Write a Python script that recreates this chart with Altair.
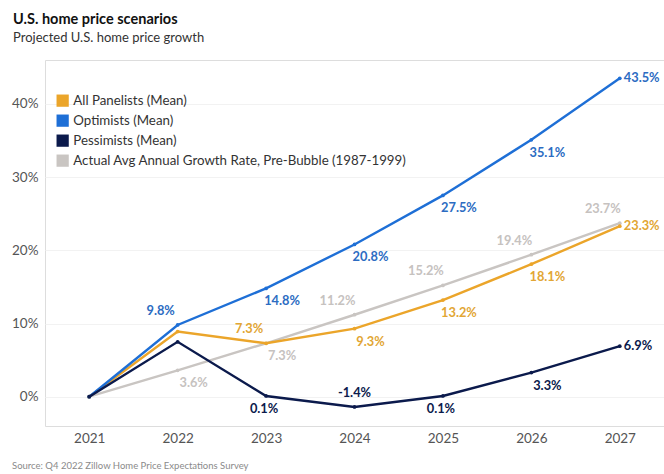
import altair as alt
import pandas as pd

years = ["2021", "2022", "2023", "2024", "2025", "2026", "2027"]
series = [
    "All Panelists (Mean)",
    "Optimists (Mean)",
    "Pessimists (Mean)",
    "Actual Avg Annual Growth Rate, Pre-Bubble (1987-1999)",
]
all_panelists = [0.0, 8.9, 7.3, 9.3, 13.2, 18.1, 23.3]
optimists = [0.0, 9.8, 14.8, 20.8, 27.5, 35.1, 43.5]
pessimists = [0.0, 7.5, 0.1, -1.4, 0.1, 3.3, 6.9]
actual = [0.0, 3.6, 7.3, 11.2, 15.2, 19.4, 23.7]
colors = ["#EBA52A", "#1E6FD6", "#0B1A4C", "#C9C5C2"]
label_colors = ["#E2A634", "#2C6CC2", "#0B1A4C", "#C6C2BF"]

# label placement relative to each point (style only)
placement = [
    [None, None, "ul", "lr", "lr", "lr", "right"],
    [None, "ul", "lr", "lr", "lr", "lr", "right"],
    [None, None, "below", "above", "below", "lr", "right"],
    [None, "lr", "lr", "ul", "ul", "ul", "ul"],
]
offsets = {
    "ul": (-17, -14, "center"),
    "lr": (16, 13, "center"),
    "above": (0, -14, "center"),
    "below": (-2, 13, "center"),
    "right": (4, 0, "left"),
}

values = [all_panelists, optimists, pessimists, actual]
rows = []
for s, vals, pl in zip(series, values, placement):
    for y, v, p in zip(years, vals, pl):
        rows.append({"year": y, "series": s, "value": v, "pos": p,
                     "label": f"{v:.1f}%"})
df = pd.DataFrame(rows)

FONT = "Lato"
W, H = 619, 366

x = alt.X("year:O", scale=alt.Scale(type="point", padding=0.5),
          axis=alt.Axis(title=None, labelAngle=0, ticks=False, domain=False,
                        grid=False, labelFontSize=13.5, labelColor="#555",
                        labelPadding=5, labelFont=FONT))
y = alt.Y("value:Q", scale=alt.Scale(domain=[-4, 46], nice=False, zero=False),
          axis=alt.Axis(title=None, values=[0, 10, 20, 30, 40], ticks=False,
                        domain=False, labelExpr="datum.value + '%'",
                        labelFontSize=13.5, labelColor="#555", labelPadding=7,
                        gridColor="#f2f2f2", labelFont=FONT))
color = alt.Color("series:N", scale=alt.Scale(domain=series, range=colors),
                  legend=alt.Legend(title=None, orient="none", legendX=11,
                                    legendY=34, symbolType="square",
                                    symbolSize=150, symbolStrokeWidth=0,
                                    labelFontSize=13.3, labelColor="#333",
                                    labelFont=FONT, rowPadding=6,
                                    symbolOpacity=1, labelLimit=400))

draw_order = [3, 0, 1, 2]
layers = []
for i in draw_order:
    sub = df[df["series"] == series[i]]
    layers.append(
        alt.Chart(sub).mark_line(strokeWidth=2.4, point=alt.OverlayMarkDef(size=14, filled=True))
        .encode(x=x, y=y, color=color, order=alt.Order("year:O"))
    )

for i in range(4):
    sub = df[df["series"] == series[i]]
    for key, (dx, dy, align) in offsets.items():
        part = sub[sub["pos"] == key]
        if len(part) == 0:
            continue
        layers.append(
            alt.Chart(part).mark_text(dx=dx, dy=dy, align=align, baseline="middle",
                                      fontSize=12.8, fontWeight="bold",
                                      font=FONT, color=label_colors[i])
            .encode(x=x, y=y, text="label:N")
        )

source = alt.Chart(pd.DataFrame({"t": ["Source: Q4 2022 Zillow Home Price Expectations Survey"]})).mark_text(
    align="left", baseline="middle", fontSize=9.5, color="#8a8a8a", font=FONT
).encode(x=alt.value(-33), y=alt.value(406), text="t:N")
layers.append(source)

chart = alt.layer(*layers).properties(
    width=W, height=H,
    title=alt.TitleParams(
        text="U.S. home price scenarios",
        subtitle="Projected U.S. home price growth",
        anchor="start", frame="group", dx=-32, offset=14,
        font=FONT, fontSize=14.5, fontWeight="bold", color="#111",
        subtitleFont=FONT, subtitleFontSize=13, subtitleColor="#333",
        subtitlePadding=5,
    ),
    autosize=alt.AutoSizeParams(type="none"),
    padding={"left": 45, "top": 60, "right": 0, "bottom": 48},
).configure_view(stroke=None).configure(background="white")

chart.save("out.html", embed_options={"renderer": "svg", "actions": False})
